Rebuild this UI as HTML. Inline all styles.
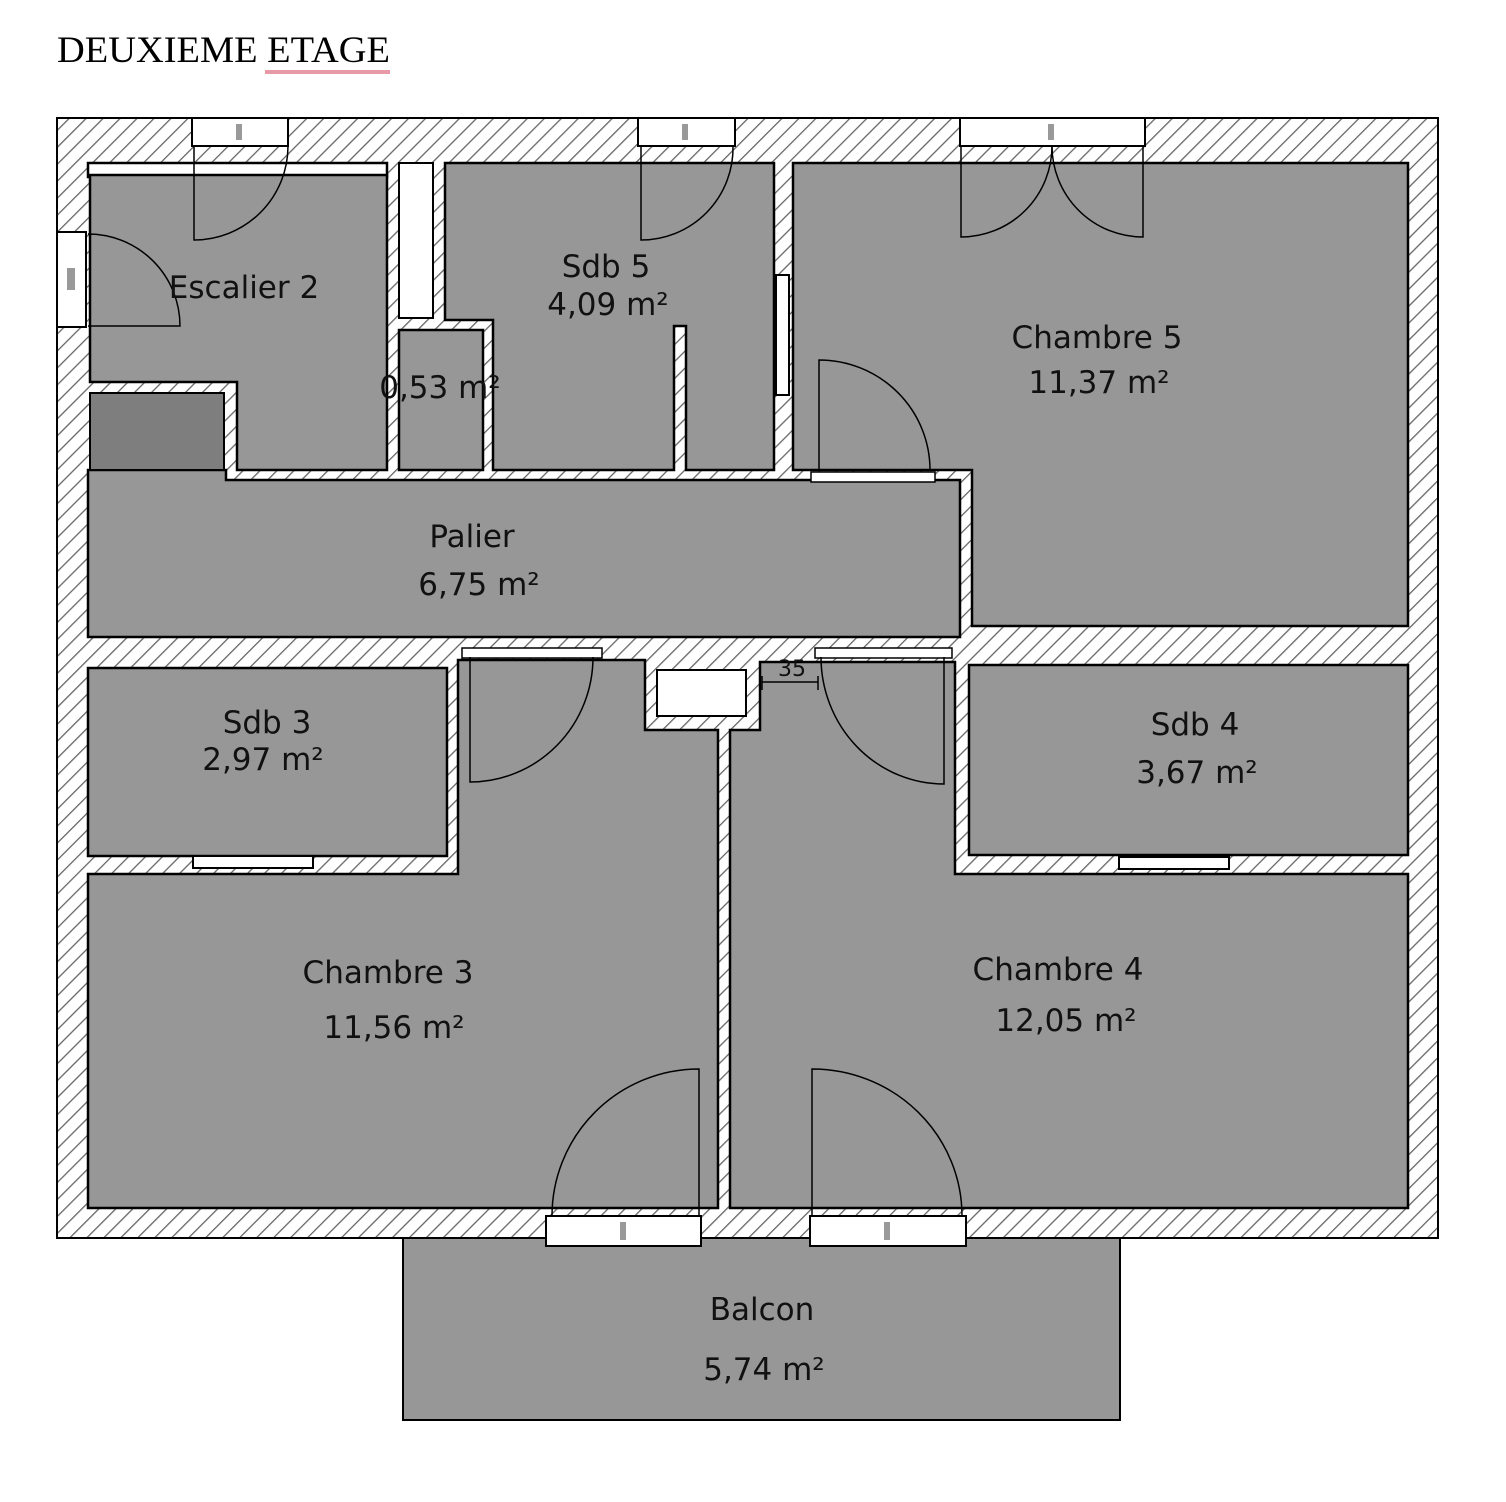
<!DOCTYPE html>
<html><head><meta charset="utf-8"><style>
html,body{margin:0;padding:0;background:#fff;}
svg{display:block;}
</style></head><body>
<svg width="1506" height="1502" viewBox="0 0 1506 1502" xmlns="http://www.w3.org/2000/svg">
<defs>
<pattern id="h" patternUnits="userSpaceOnUse" width="12" height="12" patternTransform="rotate(45)">
<rect width="12" height="12" fill="#fff"/>
<line x1="0" y1="0" x2="0" y2="12" stroke="#666" stroke-width="2.6"/>
</pattern>
</defs>
<text x="57" y="62" font-family="Liberation Serif, serif" font-size="37" fill="#000" textLength="333" lengthAdjust="spacingAndGlyphs">DEUXIEME ETAGE</text>
<rect x="265" y="70" width="125" height="4" fill="#e79aa6"/>

<rect x="57" y="118" width="1381" height="1120" fill="url(#h)" stroke="#000" stroke-width="2"/>
<rect x="403" y="1238" width="717" height="182" fill="#979797" stroke="#000" stroke-width="2"/>

<g fill="#979797" stroke="#000" stroke-width="2.5">
<rect x="88" y="163" width="299" height="14" fill="#fff"/>
<polygon points="90,175 387,175 387,470 237,470 237,382 90,382"/>
<rect x="399" y="330" width="84" height="140"/>
<polygon points="445,163 774,163 774,470 686,470 686,326 674,326 674,470 493,470 493,320 445,320"/>
<polygon points="793,163 1408,163 1408,626 972,626 972,470 793,470"/>
<polygon points="88,470 226,470 226,480 960,480 960,637 88,637"/>
<rect x="88" y="668" width="359" height="188"/>
<polygon points="88,874 458,874 458,660 645,660 645,730 718,730 718,1208 88,1208"/>
<polygon points="730,1208 730,730 760,730 760,662 955,662 955,874 1408,874 1408,1208"/>
<rect x="969" y="665" width="439" height="190"/>
</g>
<rect x="90" y="393" width="134" height="77" fill="#7e7e7e" stroke="#000" stroke-width="2"/>
<rect x="399" y="163" width="34" height="155" fill="#fff" stroke="#000" stroke-width="2"/>
<rect x="657" y="670" width="89" height="46" fill="#fff" stroke="#000" stroke-width="2"/>
<rect x="462" y="648" width="140" height="10" fill="#fff" stroke="#000" stroke-width="1.5"/>
<rect x="815" y="648" width="137" height="10" fill="#fff" stroke="#000" stroke-width="1.5"/>
<rect x="811" y="472" width="124" height="10" fill="#fff" stroke="#000" stroke-width="1.5"/>

<g fill="#fff" stroke="#000" stroke-width="2">
<rect x="192" y="118" width="96" height="28"/>
<rect x="638" y="118" width="97" height="28"/>
<rect x="960" y="118" width="185" height="28"/>
<rect x="57" y="232" width="29" height="95"/>
<rect x="546" y="1216" width="155" height="30"/>
<rect x="810" y="1216" width="156" height="30"/>
<rect x="193" y="856" width="120" height="12"/>
<rect x="1119" y="857" width="110" height="12"/>
<rect x="776" y="275" width="13" height="120"/>
</g>
<g fill="#999">
<rect x="236" y="124" width="6" height="16"/><rect x="682" y="124" width="6" height="16"/><rect x="1048" y="124" width="6" height="16"/>
<rect x="67" y="268" width="8" height="22"/><rect x="620" y="1222" width="6" height="18"/><rect x="884" y="1222" width="6" height="18"/>
</g>

<g fill="none" stroke="#000" stroke-width="1.5">
<path d="M194,146 V240 A94,94 0 0 0 288,146"/>
<path d="M88,326 H180 A92,92 0 0 0 88,234"/>
<path d="M641,146 V240 A92,92 0 0 0 733,146"/>
<path d="M961,146 V237 A91,91 0 0 0 1052,146"/>
<path d="M1143,146 V237 A91,91 0 0 1 1052,146"/>
<path d="M819,470 V360 A111,110 0 0 1 930,470"/>
<path d="M470,657 V782 A123,125 0 0 0 593,657"/>
<path d="M944,657 V784 A123,127 0 0 1 821,657"/>
<path d="M699,1216 V1069 A147,147 0 0 0 552,1216"/>
<path d="M812,1216 V1069 A150,147 0 0 1 962,1216"/>
<path d="M762,682 H818 M762,676 V690 M818,676 V690"/>
</g>

<g font-family="DejaVu Sans, sans-serif" font-size="31" fill="#111" text-anchor="middle">
<text x="244" y="298">Escalier 2</text>
<text x="440" y="398">0,53 m²</text>
<text x="606" y="277">Sdb 5</text>
<text x="608" y="315">4,09 m²</text>
<text x="1097" y="348">Chambre 5</text>
<text x="1099" y="393">11,37 m²</text>
<text x="472" y="547">Palier</text>
<text x="479" y="595">6,75 m²</text>
<text x="267" y="733">Sdb 3</text>
<text x="263" y="770">2,97 m²</text>
<text x="1195" y="735">Sdb 4</text>
<text x="1197" y="783">3,67 m²</text>
<text x="388" y="983">Chambre 3</text>
<text x="394" y="1038">11,56 m²</text>
<text x="1058" y="980">Chambre 4</text>
<text x="1066" y="1031">12,05 m²</text>
<text x="762" y="1320">Balcon</text>
<text x="764" y="1380">5,74 m²</text>
<text x="792" y="676" font-size="22">35</text>
</g>
</svg>
</body></html>
